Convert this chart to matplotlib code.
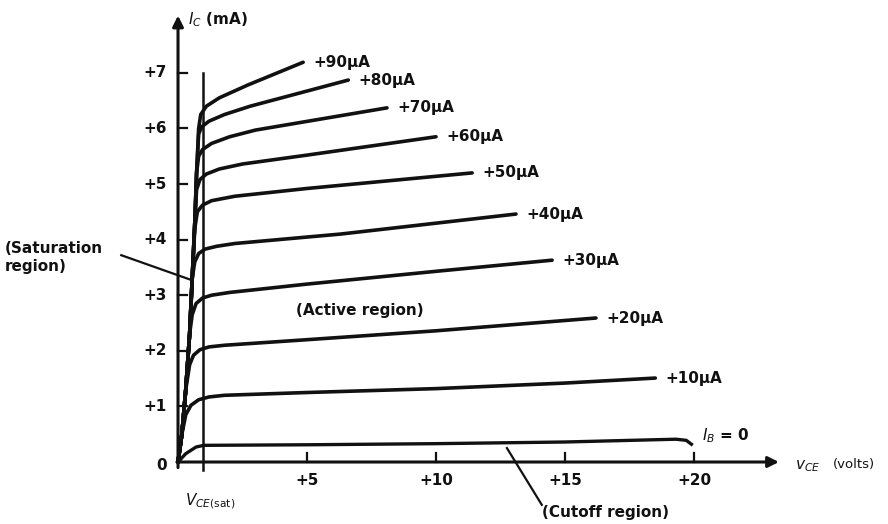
import matplotlib
matplotlib.use('Agg')
import matplotlib.pyplot as plt

# ### BJT common-emitter output characteristics (I_C vs v_CE)
ink = '#111111'
fig_w, fig_h = 8.88, 5.24

# base-current curves (V in volts, I in mA)
curve_labels = ['+10µA', '+20µA', '+30µA', '+40µA', '+50µA',
                '+60µA', '+70µA', '+80µA', '+90µA']
curve_v = [
    [0, 0.15, 0.3, 0.5, 0.8, 1.2, 1.8, 5, 10, 15, 18.5],
    [0, 0.15, 0.3, 0.45, 0.6, 0.85, 1.2, 1.8, 5, 10, 16.2],
    [0, 0.15, 0.3, 0.45, 0.55, 0.7, 0.95, 1.3, 2, 5, 10, 14.5],
    [0, 0.15, 0.3, 0.45, 0.55, 0.65, 0.8, 1.05, 1.5, 2.2, 6.3, 13.1],
    [0, 0.15, 0.3, 0.45, 0.55, 0.65, 0.75, 0.95, 1.3, 2.2, 5, 11.4],
    [0, 0.15, 0.3, 0.45, 0.55, 0.65, 0.72, 0.85, 1.1, 1.6, 2.5, 5, 10.0],
    [0, 0.15, 0.3, 0.45, 0.55, 0.65, 0.72, 0.8, 0.95, 1.3, 2, 3, 8.1],
    [0, 0.15, 0.3, 0.45, 0.55, 0.65, 0.72, 0.8, 0.92, 1.2, 1.8, 2.8, 6.6],
    [0, 0.15, 0.3, 0.45, 0.55, 0.65, 0.72, 0.8, 0.88, 1.1, 1.6, 2.7, 4.85],
]
curve_i = [
    [0, 0.5, 0.85, 1.02, 1.12, 1.17, 1.2, 1.25, 1.32, 1.42, 1.51],
    [0, 0.5, 1.3, 1.75, 1.92, 2.02, 2.07, 2.1, 2.2, 2.36, 2.59],
    [0, 0.5, 1.3, 2.3, 2.65, 2.85, 2.95, 3.0, 3.05, 3.2, 3.43, 3.63],
    [0, 0.5, 1.3, 2.3, 3.3, 3.6, 3.75, 3.83, 3.88, 3.93, 4.1, 4.46],
    [0, 0.5, 1.3, 2.3, 3.3, 4.2, 4.5, 4.62, 4.7, 4.78, 4.92, 5.2],
    [0, 0.5, 1.3, 2.3, 3.3, 4.3, 4.9, 5.08, 5.18, 5.27, 5.36, 5.52, 5.85],
    [0, 0.5, 1.3, 2.3, 3.3, 4.3, 5.2, 5.5, 5.62, 5.73, 5.85, 5.97, 6.37],
    [0, 0.5, 1.3, 2.3, 3.3, 4.3, 5.2, 5.9, 6.03, 6.13, 6.25, 6.4, 6.87],
    [0, 0.5, 1.3, 2.3, 3.3, 4.3, 5.2, 6.0, 6.25, 6.4, 6.55, 6.78, 7.19],
]
# cutoff curve (I_B = 0)
cutoff_v = [0, 0.3, 0.7, 1.0, 5, 10, 15, 19.3, 19.7, 19.9]
cutoff_i = [0, 0.15, 0.27, 0.3, 0.31, 0.33, 0.36, 0.41, 0.39, 0.32]

y_ticks = [1, 2, 3, 4, 5, 6, 7]
x_ticks = [5, 10, 15, 20]
v_sat = 0.95

fig = plt.figure(figsize=(fig_w, fig_h), dpi=100)
ax = fig.add_axes([0, 0, 1, 1])
ax.set_xlim(-6.90, 27.52)
ax.set_ylim(-1.115, 8.31)
ax.axis('off')

txt = dict(color=ink, fontsize=11, fontweight='bold', family='DejaVu Sans')

# axes with arrow heads
ax.annotate('', xy=(23.4, 0), xytext=(-0.15, 0),
            arrowprops=dict(arrowstyle='-|>', lw=2.2, color=ink, mutation_scale=16))
ax.annotate('', xy=(0, 8.08), xytext=(0, -0.15),
            arrowprops=dict(arrowstyle='-|>', lw=2.2, color=ink, mutation_scale=16))

for t in y_ticks:
    ax.plot([0, 0.35], [t, t], color=ink, lw=1.6)
    ax.text(-0.45, t, '+%d' % t, ha='right', va='center', **txt)
ax.text(-0.45, -0.06, '0', ha='right', va='center', **txt)
for t in x_ticks:
    ax.plot([t, t], [0, 0.16], color=ink, lw=1.6)
    ax.text(t, -0.33, '+%d' % t, ha='center', va='center', **txt)

# V_CE(sat) line
ax.plot([v_sat, v_sat], [-0.15, 7.0], color=ink, lw=1.8)

# characteristic curves
for v, i, lab in zip(curve_v, curve_i, curve_labels):
    ax.plot(v, i, color=ink, lw=2.6, solid_joinstyle='round', solid_capstyle='round')
    ax.text(v[-1] + 0.4, i[-1], lab, ha='left', va='center', **txt)
ax.plot(cutoff_v, cutoff_i, color=ink, lw=2.4, solid_joinstyle='round')
ax.text(20.3, 0.47, '$I_B$ = 0', ha='left', va='center', **txt)

# axis titles
ax.text(0.4, 7.95, '$I_C$ (mA)', ha='left', va='center', **txt)
ax.text(23.9, -0.08, '$v_{CE}$', ha='left', va='center', **txt)
ax.text(25.4, -0.04, '(volts)', ha='left', va='center', color=ink, fontsize=9.5)
ax.text(1.25, -0.7, '$V_{CE(\\mathrm{sat})}$', ha='center', va='center', **txt)

# region annotations
ax.text(-6.7, 3.67, '(Saturation\nregion)', ha='left', va='center',
        linespacing=1.25, **txt)
ax.plot([-2.2, 0.54], [3.72, 3.27], color=ink, lw=1.6)
ax.text(7.05, 2.73, '(Active region)', ha='center', va='center', **txt)
ax.text(14.1, -0.9, '(Cutoff region)', ha='left', va='center', **txt)
ax.plot([12.75, 14.1], [0.25, -0.77], color=ink, lw=1.6)

fig.savefig('out.png', dpi=100)
